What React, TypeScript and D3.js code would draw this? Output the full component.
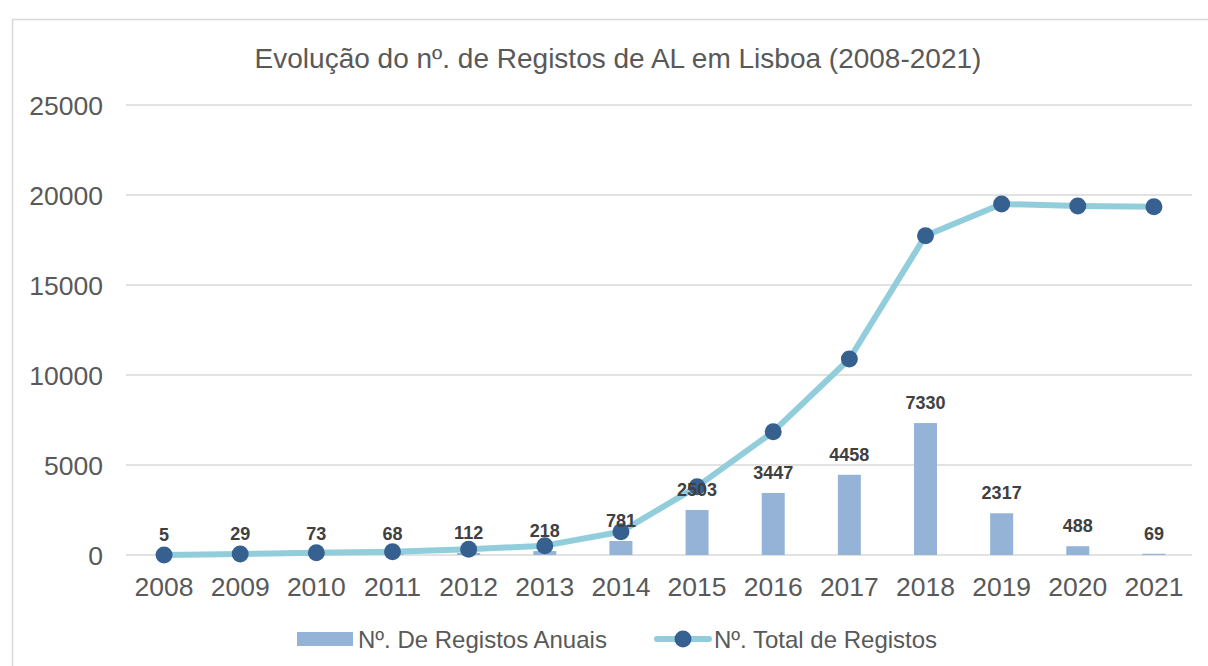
import React from "react";
import * as d3 from "d3";

const title = "Evolução do nº. de Registos de AL em Lisboa (2008-2021)";
const years = ["2008","2009","2010","2011","2012","2013","2014","2015","2016","2017","2018","2019","2020","2021"];
const annual = [5, 29, 73, 68, 112, 218, 781, 2503, 3447, 4458, 7330, 2317, 488, 69];
const total = [5, 60, 120, 185, 315, 520, 1290, 3795, 6850, 10890, 17740, 19500, 19390, 19350];
const yTicks = [0, 5000, 10000, 15000, 20000, 25000];
const seriesNames = ["Nº. De Registos Anuais", "Nº. Total de Registos"];

const W = 1208, H = 666;
const FONT = "'Liberation Sans', Arial, sans-serif";
const TEXT = "#595959";
const BAR = "#95B3D7";
const LINE = "#92CDDC";
const MARK = "#36608F";
const GRID = "#D9D9D9";

export default function App() {
  const x = d3.scaleBand<string>().domain(years).range([126, 1192]).padding(0);
  const y = d3.scaleLinear().domain([0, 25000]).range([555, 105]);
  const bw = 23;
  const cx = (d: string) => (x(d) as number) + x.bandwidth() / 2;
  const line = d3.line<number>().x((_, i) => cx(years[i])).y((v) => y(v));

  return (
    <svg width={W} height={H} style={{ position: "absolute", left: 0, top: 0, background: "#fff" }}>
      <rect x={12.5} y={19.5} width={1210} height={680} fill="#fff" stroke={GRID} strokeWidth={1.5} />
      <text x={618} y={68} textAnchor="middle" fontFamily={FONT} fontSize={28} fill={TEXT}>{title}</text>
      {yTicks.map((t) => (
        <g key={t}>
          <line x1={126} x2={1192} y1={y(t)} y2={y(t)} stroke={GRID} strokeWidth={1.5} />
          <text x={103} y={y(t) + 9.5} textAnchor="end" fontFamily={FONT} fontSize={26.5} fill={TEXT}>{t}</text>
        </g>
      ))}
      {years.map((yr, i) => (
        <rect key={yr} x={cx(yr) - bw / 2} y={y(annual[i])} width={bw} height={y(0) - y(annual[i])} fill={BAR} />
      ))}
      {years.map((yr) => (
        <text key={yr} x={cx(yr)} y={596} textAnchor="middle" fontFamily={FONT} fontSize={26.5} fill={TEXT}>{yr}</text>
      ))}
      <path d={line(total) || ""} fill="none" stroke={LINE} strokeWidth={6} strokeLinejoin="round" strokeLinecap="round" />
      {years.map((yr, i) => (
        <circle key={yr} cx={cx(yr)} cy={y(total[i])} r={8.5} fill={MARK} />
      ))}
      {years.map((yr, i) => (
        <text key={yr} x={cx(yr)} y={y(annual[i]) - 14} textAnchor="middle" fontFamily={FONT} fontSize={18} fontWeight="bold" fill="#404040">{annual[i]}</text>
      ))}
      <g>
        <rect x={297} y={632} width={56} height={14} fill={BAR} />
        <text x={358} y={647.5} fontFamily={FONT} fontSize={24} fill={TEXT}>{seriesNames[0]}</text>
        <line x1={657} x2={709} y1={639} y2={639} stroke={LINE} strokeWidth={6} strokeLinecap="round" />
        <circle cx={683} cy={639} r={8.5} fill={MARK} />
        <text x={714} y={647.5} fontFamily={FONT} fontSize={24} fill={TEXT}>{seriesNames[1]}</text>
      </g>
    </svg>
  );
}
